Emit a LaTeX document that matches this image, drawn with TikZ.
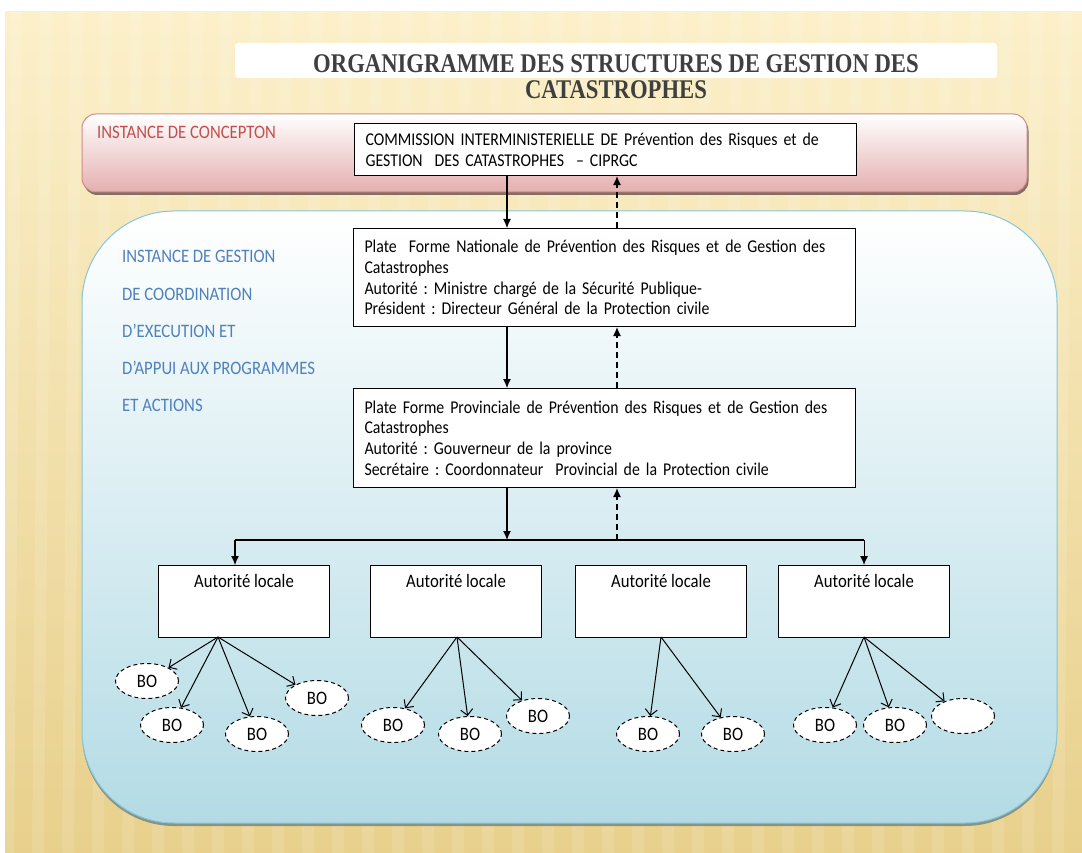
\documentclass[tikz,border=0pt]{standalone}
\usepackage{fontspec}
\setmainfont{Carlito}[FakeStretch=0.88]
\newfontfamily\titlefont{Liberation Serif}[FakeStretch=0.84]
\usetikzlibrary{positioning,shapes.geometric,arrows.meta,shadows}
\definecolor{bgtop}{HTML}{FCF0CA}
\definecolor{bgbot}{HTML}{E8D08C}
\definecolor{pinkbot}{HTML}{E5AFAF}
\definecolor{pinkline}{HTML}{D08C8C}
\definecolor{bluebot}{HTML}{B3DBE5}
\definecolor{blueline}{HTML}{86C6D8}
\definecolor{myred}{HTML}{C0504D}
\definecolor{myblue}{HTML}{4F81BD}
\definecolor{titlegray}{HTML}{3F3F3F}
\frenchspacing

\begin{document}
\begin{tikzpicture}[x=1pt,y=-1pt,
    box/.style={draw, line width=1.1pt, fill=white, anchor=north west, align=left,
      text width=480pt, inner xsep=11pt, inner ysep=4pt, font=\fontsize{18}{20.7}\selectfont},
    localbox/.style={draw, line width=1.1pt, fill=white, anchor=north west,
      minimum width=171pt, minimum height=72pt},
    bo/.style={ellipse, draw, line width=1pt, dash pattern=on 4pt off 3pt, fill=white,
      minimum width=63pt, minimum height=35pt, inner sep=0pt, font=\fontsize{19}{19}\selectfont},
    down/.style={line width=1.1pt, -{Latex[length=9pt,width=8pt]}},
    up/.style={line width=1.1pt, dash pattern=on 6pt off 4pt, -{Latex[length=9pt,width=8pt]}},
    toBO/.style={line width=1pt, -{Straight Barb[length=6pt,width=12pt]}},
    lbl/.style={anchor=base west, inner sep=0pt, font=\fontsize{19}{19}\selectfont},
  ]
    \useasboundingbox (0,0) rectangle (1082,853);

    % background
    \fill[white] (0,0) rectangle (1082,853);
    \shade[top color=bgtop, bottom color=bgbot] (5,12) rectangle (1082,853);
    \foreach \x in {10,40,...,1070}
      \fill[white, opacity=0.12] (\x,12) -- (\x+12,12) -- (\x+4,853) -- (\x-8,853) -- cycle;

    % title
    \fill[white, rounded corners=3pt] (235,43) rectangle (997,78);
    \node[font=\titlefont\bfseries\fontsize{27}{26}\selectfont, text=titlegray, align=center]
      (title) at (616,77) {ORGANIGRAMME DES STRUCTURES DE GESTION DES\\CATASTROPHES};

    % the two bands
    \draw[pinkline, line width=1pt, top color=white, bottom color=pinkbot, rounded corners=14pt,
      drop shadow={shadow xshift=1.5pt, shadow yshift=-3pt, fill=black!55!pinkbot, opacity=0.8}]
      (82,114) rectangle (1027,192);
    \draw[blueline, line width=1pt, top color=white, bottom color=bluebot, rounded corners=92pt,
      drop shadow={shadow xshift=0pt, shadow yshift=-3pt, fill=black!45!bluebot, opacity=0.7}]
      (82,211) rectangle (1057,823);

    % instance labels
    \node[lbl, text=myred] (concept) at (97,139) {INSTANCE DE CONCEPTON};
    \foreach \txt [count=\i] in {INSTANCE DE GESTION, DE COORDINATION, D’EXECUTION ET,
        D’APPUI AUX PROGRAMMES, ET ACTIONS}
      \node[lbl, text=myblue] (gestion\i) at (122,226+37*\i) {\txt};

    % main boxes
    \node[box, minimum height=52pt] (ciprgc) at (354,123)
      {COMMISSION INTERMINISTERIELLE DE Prévention des Risques et de\\
       GESTION\ \ DES CATASTROPHES\ \ – CIPRGC};
    \node[box, minimum height=98pt] (nat) at (353,228)
      {Plate\ \ Forme Nationale de Prévention des Risques et de Gestion des\\
       Catastrophes\\
       Autorité : Ministre chargé de la Sécurité Publique-\\
       Président : Directeur Général de la Protection civile};
    \node[box, minimum height=99pt] (prov) at (353,388)
      {Plate Forme Provinciale de Prévention des Risques et de Gestion des\\
       Catastrophes\\
       Autorité : Gouverneur de la province\\
       Secrétaire : Coordonnateur\ \ Provincial de la Protection civile};

    % local authorities
    \foreach \xx [count=\i] in {158,370,575,778}
      \node[localbox, label={[anchor=north, yshift=-6pt, font=\fontsize{19}{19}\selectfont]north:Autorité locale}]
        (loc\i) at (\xx,565) {};

    % links between levels
    \coordinate (xs) at (507,0);
    \coordinate (xd) at (617,0);
    \coordinate (bus) at (0,540);
    \coordinate (b1) at (235,540);
    \draw[down] (ciprgc.south -| xs) -- (nat.north -| xs);
    \draw[up] (nat.north -| xd) -- (ciprgc.south -| xd);
    \draw[down] (nat.south -| xs) -- (prov.north -| xs);
    \draw[up] (prov.north -| xd) -- (nat.south -| xd);
    \draw[down] (prov.south -| xs) -- (bus -| xs);
    \draw[line width=1.1pt] (b1) -- (bus -| loc4.north);
    \draw[down] (b1) -- (b1 |- loc1.north);
    \draw[down] (bus -| loc4.north) -- (loc4.north);
    \draw[up] (bus -| xd) -- (prov.south -| xd);

    % BO
    \coordinate (s1) at (218,637);
    \coordinate (s2) at (457,637);
    \coordinate (s3) at (661,637);
    \coordinate (s4) at (864,637);
    \node[bo] (bo11) at (147,681) {BO};
    \node[bo] (bo12) at (172,725) {BO};
    \node[bo] (bo13) at (257,734) {BO};
    \node[bo] (bo14) at (317,698) {BO};
    \node[bo] (bo21) at (393,725) {BO};
    \node[bo] (bo22) at (470,734) {BO};
    \node[bo] (bo23) at (538,716) {BO};
    \node[bo] (bo31) at (648,734) {BO};
    \node[bo] (bo32) at (733,734) {BO};
    \node[bo] (bo41) at (825,725) {BO};
    \node[bo] (bo42) at (895,725) {BO};
    \node[bo] (bo43) at (963,716) {};
    \foreach \b in {bo11,bo12,bo13,bo14} \draw[toBO] (s1) -- (\b);
    \foreach \b in {bo21,bo22,bo23} \draw[toBO] (s2) -- (\b);
    \foreach \b in {bo31,bo32} \draw[toBO] (s3) -- (\b);
    \foreach \b in {bo41,bo42,bo43} \draw[toBO] (s4) -- (\b);
\end{tikzpicture}
\end{document}
